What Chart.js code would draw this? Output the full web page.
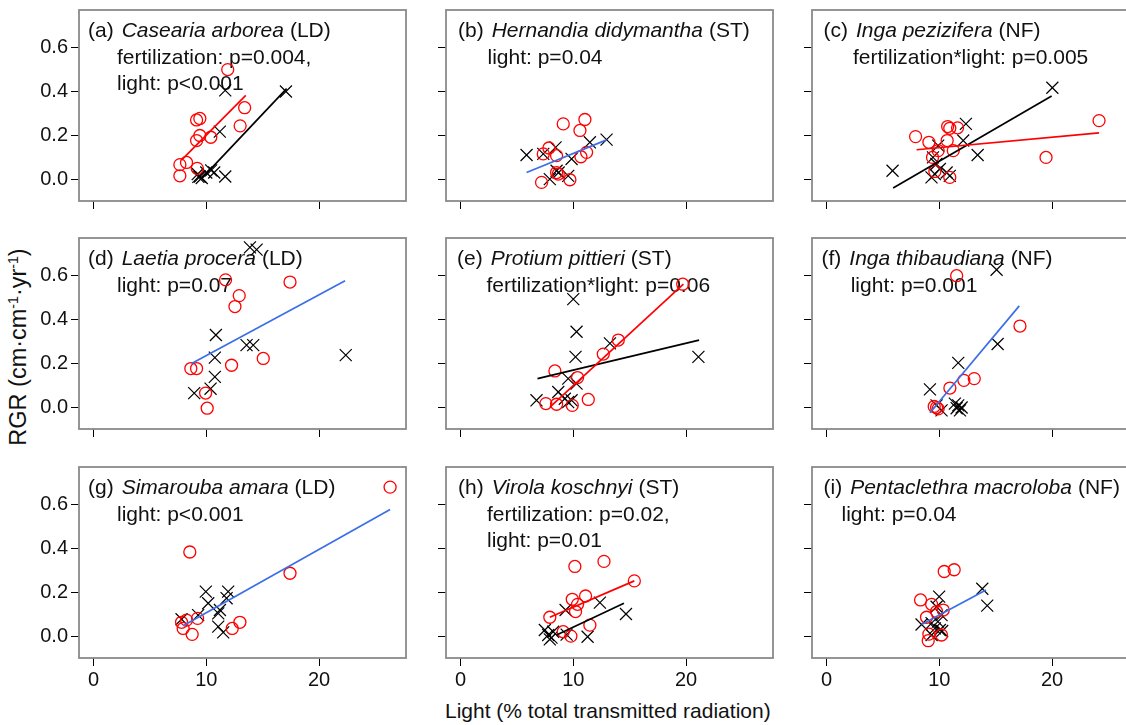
<!DOCTYPE html>
<html>
<head>
<meta charset="utf-8">
<script src="https://cdn.jsdelivr.net/npm/chart.js@4"></script>
<style>
  html, body { margin: 0; padding: 0; background: #fff; }
  body { width: 1126px; height: 725px; position: relative; overflow: hidden;
         font-family: "Liberation Sans", Arial, Helvetica, sans-serif; color: #111; }
  .panel { position: absolute; }
  #yTitle { position: absolute; left: 18px; top: 347px; font-size: 23.5px; white-space: nowrap;
            transform: translate(-50%, -50%) rotate(-90deg); }
  #yTitle sup { font-size: 60%; vertical-align: 0.55em; line-height: 0; }
  #xTitle { position: absolute; left: 445px; top: 700px; font-size: 21px; line-height: 21px; white-space: nowrap; }
</style>
</head>
<body>
<div id="yTitle">RGR (cm·cm<sup>-1</sup>·yr<sup>-1</sup>)</div>
<div id="xTitle">Light (% total transmitted radiation)</div>
<script>
// axis ticks (shared by all panels)
const xTicks = [0, 10, 20];
const yTicks = [0.0, 0.2, 0.4, 0.6];

// red circles / black crosses: [light %, RGR]; fits are line end points
// (a) Casearia arborea
const aRed = [[11.9, 0.50], [13.4, 0.326], [13.0, 0.243], [9.14, 0.27], [9.43, 0.277], [9.43, 0.199],
  [9.14, 0.176], [10.4, 0.191], [7.66, 0.066], [8.25, 0.076], [7.66, 0.015], [9.2, 0.049]];
const aBlack = [[17.06, 0.40], [11.68, 0.405], [11.2, 0.217], [9.24, 0.023], [9.44, 0.012], [10.0, 0.03],
  [10.43, 0.04], [10.7, 0.03], [11.68, 0.012], [9.6, 0.005], [9.3, 0.01]];
const aRedFit = [[7.8, 0.087], [13.5, 0.382]];
const aBlackFit = [[9.67, 0.007], [17.12, 0.413]];

// (b) Hernandia didymantha
const bRed = [[9.11, 0.252], [11.03, 0.272], [10.59, 0.222], [11.18, 0.122], [10.68, 0.102], [7.84, 0.142],
  [7.34, 0.115], [8.52, 0.107], [8.52, 0.03], [8.67, 0.023], [9.7, -0.003], [7.19, -0.015]];
const bBlack = [[5.86, 0.11], [7.34, 0.115], [8.43, 0.145], [11.47, 0.168], [12.95, 0.18], [9.85, 0.092],
  [8.52, 0.038], [7.92, 0.0], [9.55, 0.015], [8.7, 0.03]];
const bFit = [[5.86, 0.03], [12.95, 0.179]];

// (c) Inga pezizifera
const cRed = [[24.16, 0.267], [19.46, 0.099], [7.9, 0.194], [9.08, 0.168], [10.74, 0.24], [10.93, 0.232],
  [11.62, 0.234], [10.7, 0.176], [11.24, 0.13], [9.9, 0.13], [9.4, 0.099], [9.61, 0.035], [10.93, 0.008]];
const cBlack = [[20.02, 0.417], [12.36, 0.252], [12.12, 0.176], [13.4, 0.11], [5.86, 0.038], [9.9, 0.153],
  [9.44, 0.099], [9.74, 0.069], [9.61, 0.023], [9.31, 0.008], [10.65, 0.03], [10.93, 0.015], [10.05, 0.046]];
const cRedFit = [[7.99, 0.134], [24.16, 0.211]];
const cBlackFit = [[5.91, -0.041], [19.96, 0.379]];

// (d) Laetia procera
const dRed = [[11.71, 0.581], [17.42, 0.571], [12.92, 0.509], [12.54, 0.459], [12.24, 0.191], [15.05, 0.222],
  [8.63, 0.176], [9.14, 0.176], [9.94, 0.064], [10.08, -0.005]];
const dBlack = [[13.87, 0.729], [14.46, 0.719], [22.36, 0.237], [10.85, 0.329], [13.57, 0.283], [14.16, 0.283],
  [10.76, 0.226], [10.76, 0.138], [10.38, 0.084], [8.93, 0.064]];
const dFit = [[8.7, 0.199], [22.3, 0.577]];

// (e) Protium pittieri
const eRed = [[19.7, 0.561], [13.99, 0.306], [12.66, 0.242], [8.37, 0.165], [10.38, 0.135], [11.33, 0.035],
  [7.57, 0.016], [8.52, 0.013], [9.91, 0.008]];
const eBlack = [[10.0, 0.493], [10.29, 0.344], [10.2, 0.229], [13.25, 0.291], [21.09, 0.229], [9.55, 0.13],
  [10.29, 0.107], [6.74, 0.031], [8.67, 0.069], [9.25, 0.038], [9.85, 0.031], [9.55, 0.023]];
const eRedFit = [[7.93, 0.0], [19.76, 0.561]];
const eBlackFit = [[6.83, 0.13], [21.15, 0.306]];

// (f) Inga thibaudiana
const fRed = [[11.54, 0.6], [17.15, 0.37], [13.1, 0.13], [12.18, 0.122], [10.94, 0.087], [9.55, 0.003],
  [9.9, -0.008], [9.76, -0.002]];
const fBlack = [[15.08, 0.627], [15.17, 0.288], [11.68, 0.202], [9.17, 0.081], [9.76, 0.008], [10.2, -0.015],
  [11.38, 0.016], [11.68, 0.008], [11.98, -0.002], [11.54, -0.005], [11.83, -0.015]];
const fFit = [[9.17, -0.026], [17.09, 0.462]];

// (g) Simarouba amara
const gRed = [[26.29, 0.68], [17.42, 0.287], [8.54, 0.384], [12.98, 0.063], [12.3, 0.035], [9.23, 0.081],
  [8.25, 0.073], [7.81, 0.063], [7.95, 0.035], [8.75, 0.008]];
const gBlack = [[9.96, 0.203], [11.94, 0.203], [11.8, 0.173], [10.17, 0.15], [11.21, 0.119], [11.06, 0.104],
  [9.28, 0.096], [7.81, 0.077], [11.06, 0.043], [11.5, 0.017]];
const gFit = [[7.95, 0.047], [26.29, 0.578]];

// (h) Virola koschnyi
const hRed = [[10.14, 0.318], [12.72, 0.341], [15.41, 0.252], [11.09, 0.183], [9.91, 0.168], [10.38, 0.145],
  [10.2, 0.112], [7.92, 0.086], [11.47, 0.05], [9.11, 0.02], [9.79, 0.0]];
const hBlack = [[12.36, 0.153], [14.67, 0.101], [9.32, 0.119], [11.27, -0.003], [7.48, 0.028], [7.78, 0.005],
  [8.07, -0.007], [8.22, 0.02], [9.41, 0.007], [7.92, -0.015]];
const hRedFit = [[7.92, 0.086], [15.41, 0.252]];
const hBlackFit = [[8.52, 0.005], [14.49, 0.15]];

// (i) Pentaclethra macroloba
const iRed = [[10.44, 0.295], [11.32, 0.303], [8.34, 0.165], [9.32, 0.145], [10.35, 0.119], [8.87, 0.086],
  [10.2, 0.005], [9.08, 0.009], [9.02, -0.021], [9.76, 0.112]];
const iBlack = [[13.81, 0.216], [14.25, 0.139], [9.99, 0.18], [9.76, 0.134], [10.2, 0.096], [8.43, 0.053],
  [9.32, 0.059], [9.61, 0.035], [10.05, 0.028], [9.32, 0.005], [10.26, 0.023], [9.88, 0.066]];
const iFit = [[8.43, 0.053], [14.14, 0.211]];

const RED = '#ff0000';
const BLACK = '#000000';
const BLUE = '#3c6ee8';
const FONT_FAMILY = '"Liberation Sans", Arial, Helvetica, sans-serif';

// panel list: data + labels
const panels = [
  { tag: '(a)', species: 'Casearia arborea', group: '(LD)', stats: ['fertilization: p=0.004,', 'light: p<0.001'],
    red: aRed, black: aBlack, fits: [[aRedFit, RED], [aBlackFit, BLACK]], indent: [9, 38] },
  { tag: '(b)', species: 'Hernandia didymantha', group: '(ST)', stats: ['light: p=0.04'],
    red: bRed, black: bBlack, fits: [[bFit, BLUE]], indent: [12, 41.5] },
  { tag: '(c)', species: 'Inga pezizifera', group: '(NF)', stats: ['fertilization*light: p=0.005'],
    red: cRed, black: cBlack, fits: [[cRedFit, RED], [cBlackFit, BLACK]], indent: [11.5, 41] },
  { tag: '(d)', species: 'Laetia procera', group: '(LD)', stats: ['light: p=0.07'],
    red: dRed, black: dBlack, fits: [[dFit, BLUE]], indent: [9, 38] },
  { tag: '(e)', species: 'Protium pittieri', group: '(ST)', stats: ['fertilization*light: p=0.06'],
    red: eRed, black: eBlack, fits: [[eRedFit, RED], [eBlackFit, BLACK]], indent: [11, 40.5] },
  { tag: '(f)', species: 'Inga thibaudiana', group: '(NF)', stats: ['light: p=0.001'],
    red: fRed, black: fBlack, fits: [[fFit, BLUE]], indent: [9.5, 38.7] },
  { tag: '(g)', species: 'Simarouba amara', group: '(LD)', stats: ['light: p<0.001'],
    red: gRed, black: gBlack, fits: [[gFit, BLUE]], indent: [9, 38] },
  { tag: '(h)', species: 'Virola koschnyi', group: '(ST)', stats: ['fertilization: p=0.02,', 'light: p=0.01'],
    red: hRed, black: hBlack, fits: [[hRedFit, RED], [hBlackFit, BLACK]], indent: [12, 41] },
  { tag: '(i)', species: 'Pentaclethra macroloba', group: '(NF)', stats: ['light: p=0.04'],
    red: iRed, black: iBlack, fits: [[iFit, BLUE]], indent: [11.5, 29.5] }
];

// page layout (frame boxes)
const colLeft = [79, 446, 812];
const rowTop = [10, 238, 467];
const FRAME_W = 327, FRAME_H = 191;
const AX_W = 70, AX_H = 40, PAD = 4;

const toXY = pts => pts.map(([x, y]) => ({ x, y }));

// fixed axis box sizes, no extra label padding so the frames land where they should
function pinScale(s, isX) {
  if (isX) s.height = AX_H; else s.width = AX_W;
  s.paddingTop = s.paddingBottom = s.paddingLeft = s.paddingRight = 0;
}

function panelPlugin(p) {
  return {
    id: 'panelText',
    beforeDatasetsDraw(chart) {
      const { ctx, chartArea: a } = chart;
      ctx.save();
      ctx.fillStyle = '#111';
      ctx.textAlign = 'left';
      ctx.textBaseline = 'alphabetic';
      const base = a.top + 27;
      let x = a.left + p.indent[0];
      ctx.font = '21px ' + FONT_FAMILY;
      ctx.fillText(p.tag, x, base);
      x += ctx.measureText(p.tag).width + 8;
      ctx.font = 'italic 21px ' + FONT_FAMILY;
      ctx.fillText(p.species, x, base);
      x += ctx.measureText(p.species).width + 6;
      ctx.font = '21px ' + FONT_FAMILY;
      ctx.fillText(p.group, x, base);
      p.stats.forEach((s, i) => ctx.fillText(s, a.left + p.indent[1], base + 26.5 * (i + 1)));
      ctx.restore();
    },
    afterDraw(chart) {
      const { ctx, chartArea: a } = chart;
      ctx.save();
      ctx.strokeStyle = '#8a8a8a';
      ctx.lineWidth = 1.8;
      ctx.strokeRect(a.left, a.top, a.right - a.left, a.bottom - a.top);
      ctx.restore();
    }
  };
}

function makeChart(p, k) {
  const col = k % 3, row = Math.floor(k / 3);
  const w = AX_W + FRAME_W + PAD, h = PAD + FRAME_H + AX_H;
  const box = document.createElement('div');
  box.className = 'panel';
  box.style.left = (colLeft[col] - AX_W) + 'px';
  box.style.top = (rowTop[row] - PAD) + 'px';
  box.style.width = w + 'px';
  box.style.height = h + 'px';
  const canvas = document.createElement('canvas');
  box.appendChild(canvas);
  document.body.appendChild(box);

  const datasets = [
    ...p.fits.map(([pts, color]) => ({
      data: toXY(pts), showLine: true, borderColor: color, borderWidth: 1.7, pointRadius: 0
    })),
    {
      data: toXY(p.red), pointStyle: 'circle', pointRadius: 6,
      borderColor: RED, pointBorderColor: RED, backgroundColor: 'rgba(0,0,0,0)',
      pointBackgroundColor: 'rgba(0,0,0,0)', pointBorderWidth: 1.3
    },
    {
      data: toXY(p.black), pointStyle: 'crossRot', pointRadius: 8.5,
      borderColor: BLACK, pointBorderColor: BLACK, pointBorderWidth: 1.2
    }
  ];

  const tickFont = { family: FONT_FAMILY, size: 20 };
  new Chart(canvas, {
    type: 'scatter',
    data: { datasets },
    options: {
      responsive: true,
      maintainAspectRatio: false,
      animation: false,
      events: [],
      layout: { autoPadding: false, padding: { left: 0, top: PAD, right: PAD, bottom: 0 } },
      plugins: { legend: { display: false }, tooltip: { enabled: false } },
      scales: {
        x: {
          type: 'linear', min: -1.28, max: 27.7,
          afterBuildTicks: s => { s.ticks = xTicks.map(v => ({ value: v })); },
          afterFit: s => pinScale(s, true),
          grid: { drawOnChartArea: false, drawTicks: true, tickLength: 8, color: '#000', lineWidth: 1 },
          border: { display: false },
          ticks: { display: row === 2, font: tickFont, color: '#111', padding: 2,
                   maxRotation: 0, autoSkip: false, callback: v => String(v) }
        },
        y: {
          type: 'linear', min: -0.1, max: 0.772,
          afterBuildTicks: s => { s.ticks = yTicks.map(v => ({ value: v })); },
          afterFit: s => pinScale(s, false),
          grid: { drawOnChartArea: false, drawTicks: true, tickLength: 8, color: '#000', lineWidth: 1 },
          border: { display: false },
          ticks: { display: col === 0, font: tickFont, color: '#111', padding: 3,
                   autoSkip: false, callback: v => v.toFixed(1) }
        }
      }
    },
    plugins: [panelPlugin(p)]
  });
}

panels.forEach(makeChart);
</script>
</body>
</html>
